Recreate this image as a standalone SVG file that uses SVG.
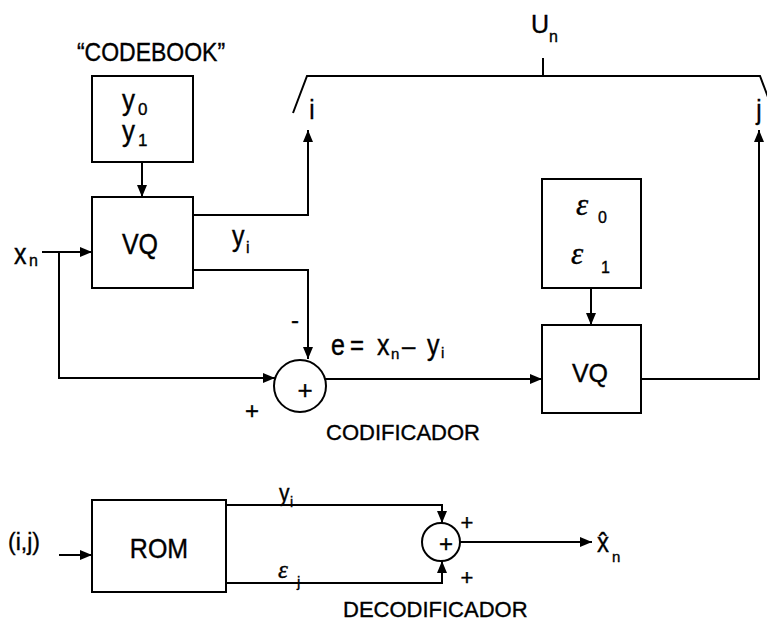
<svg xmlns="http://www.w3.org/2000/svg" width="767" height="622" viewBox="0 0 767 622">
<style>
.box{fill:none;stroke:#000;stroke-width:2}
.ln{fill:none;stroke:#000;stroke-width:2}
text{font-family:"Liberation Sans",Arial,sans-serif;fill:#000;stroke:#000;stroke-width:0.35}
.eps{font-family:"Liberation Serif","Times New Roman",serif;font-style:italic}
.c{text-anchor:middle}
</style>
<defs>
<marker id="ah" viewBox="0 0 12 10" refX="12" refY="5" markerWidth="12" markerHeight="10" markerUnits="userSpaceOnUse" orient="auto">
<path d="M0,0 L12,5 L0,10 z" fill="#000"/>
</marker>
</defs>
<rect width="767" height="622" fill="#fff"/>

<g id="connectors">
<line class="ln" x1="142" y1="162" x2="142" y2="197" marker-end="url(#ah)"/>
<polyline class="ln" points="193,215 308,215 308,130" marker-end="url(#ah)"/>
<polyline class="ln" points="193,270 308,270 308,359" marker-end="url(#ah)"/>
<line class="ln" x1="42" y1="252" x2="92" y2="252" marker-end="url(#ah)"/>
<polyline class="ln" points="59,252 59,378 275,378" marker-end="url(#ah)"/>
<line class="ln" x1="325" y1="379" x2="542" y2="379" marker-end="url(#ah)"/>
<line class="ln" x1="591" y1="288" x2="591" y2="325" marker-end="url(#ah)"/>
<polyline class="ln" points="641,379 759,379 759,130" marker-end="url(#ah)"/>
<polyline class="ln" points="293,113 307,76 760,76 774,113"/>
<line class="ln" x1="543" y1="58" x2="543" y2="76"/>
<line class="ln" x1="59" y1="555" x2="92" y2="555" marker-end="url(#ah)"/>
<polyline class="ln" points="226,505 442,505 442,523" marker-end="url(#ah)"/>
<polyline class="ln" points="226,583 442,583 442,561" marker-end="url(#ah)"/>
<line class="ln" x1="460" y1="542" x2="592" y2="542" marker-end="url(#ah)"/>
</g>

<g id="codebook">
<text class="c" transform="translate(151,61) scale(1,1.1)" font-size="23">“CODEBOOK”</text>
<rect class="box" x="92" y="76" width="101" height="86"/>
<text transform="translate(122,110) scale(1,1.15)" font-size="26">y</text>
<text x="138" y="115" font-size="17">0</text>
<text transform="translate(122,141) scale(1,1.15)" font-size="26">y</text>
<text x="138" y="146" font-size="17">1</text>
</g>

<g id="vq1">
<rect class="box" x="92" y="197" width="101" height="91"/>
<text class="c" transform="translate(140,254) scale(1,1.2)" font-size="25">VQ</text>
</g>

<g id="codebook2">
<rect class="box" x="542" y="179" width="99" height="109"/>
<text class="eps" x="576" y="215" font-size="31">ε</text>
<text x="598" y="223" font-size="16">0</text>
<text class="eps" x="571" y="264" font-size="31">ε</text>
<text x="601" y="273" font-size="16">1</text>
</g>

<g id="vq2">
<rect class="box" x="542" y="325" width="99" height="88"/>
<text class="c" transform="translate(590,382) scale(1,1.05)" font-size="25">VQ</text>
</g>

<g id="sum1">
<circle class="box" cx="300" cy="386" r="26"/>
<text class="c" x="305" y="399" font-size="26">+</text>
</g>

<g id="rom">
<rect class="box" x="92" y="500" width="134" height="92"/>
<text class="c" transform="translate(159,558) scale(1,1.1)" font-size="25">ROM</text>
</g>

<g id="sum2">
<circle class="box" cx="441" cy="542" r="19"/>
<text class="c" x="446" y="552" font-size="24">+</text>
</g>

<g id="labels">
<text transform="translate(531,33) scale(1,1.05)" font-size="25">U</text>
<text x="549" y="42" font-size="16">n</text>
<text class="c" transform="translate(312,119) scale(1,1.15)" font-size="24">i</text>
<text class="c" transform="translate(759,119) scale(1,1.15)" font-size="24">j</text>
<text transform="translate(14,264) scale(1,1.2)" font-size="25">x</text>
<text x="29" y="266" font-size="16">n</text>
<text transform="translate(232,246) scale(1,1.2)" font-size="25">y</text>
<text x="246" y="253" font-size="16">i</text>
<text x="291" y="328" font-size="24">-</text>
<text class="c" x="252" y="419" font-size="24">+</text>
<text transform="translate(331,355) scale(1,1.15)" font-size="25">e</text>
<text transform="translate(350,355) scale(1,1.15)" font-size="24">=</text>
<text transform="translate(377,355) scale(1,1.15)" font-size="25">x</text>
<text x="391" y="359" font-size="15">n</text>
<text transform="translate(402,355) scale(1,1.15)" font-size="24">–</text>
<text transform="translate(427,355) scale(1,1.15)" font-size="25">y</text>
<text x="441" y="358" font-size="15">i</text>
<text x="326" y="440" font-size="22">CODIFICADOR</text>
<text transform="translate(8,550) scale(1,1.05)" font-size="23">(i,j)</text>
<text transform="translate(279,501) scale(1,1.1)" font-size="21">y</text>
<text x="290" y="507" font-size="14">i</text>
<text class="eps" x="278" y="578" font-size="25">ε</text>
<text x="297" y="587" font-size="15">j</text>
<text class="c" x="467" y="530" font-size="22">+</text>
<text class="c" x="467" y="585" font-size="22">+</text>
<text transform="translate(597,552) scale(1,1.15)" font-size="24">x̂</text>
<text x="612" y="562" font-size="15">n</text>
<text x="343" y="617" font-size="22">DECODIFICADOR</text>
</g>
</svg>
